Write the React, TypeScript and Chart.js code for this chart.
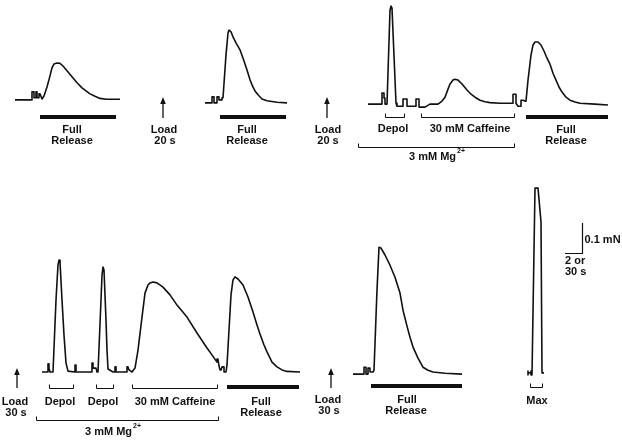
import React, { useEffect, useRef } from "react";
import { Chart, registerables } from "chart.js";

Chart.register(...registerables);

// ---- Force traces: [time (a.u.), force above baseline (mN)] ----
const TRACE_1: [number, number][] = [
  [0, 0], [17, 0], [17, 0.027], [19, 0.027], [19, 0.007], [21, 0.007], [21, 0.027], [22, 0.027],
  [22, 0.007], [24, 0.007], [24, 0.02], [25, 0.02], [27, 0.003], [29, 0.013], [32, 0.043], [35, 0.08],
  [37, 0.107], [39, 0.12], [42, 0.123], [45, 0.122], [48, 0.113], [52, 0.097], [57, 0.077], [62, 0.057],
  [67, 0.04], [71, 0.03], [75, 0.02], [80, 0.012], [85, 0.005], [91, 0.002], [105, 0.002],
];
const TRACE_2: [number, number][] = [
  [0, 0], [7, 0], [7, 0.02], [9, 0.02], [9, 0], [12, 0], [12, 0.02], [14, 0.02], [14, 0.01], [17, 0.01],
  [17, 0.017], [18, 0.017], [21, 0.16], [23, 0.233], [24, 0.243], [26, 0.237], [28, 0.22], [31, 0.2],
  [35, 0.177], [39, 0.14], [42, 0.11], [45, 0.077], [47, 0.06], [50, 0.04], [53, 0.027], [57, 0.013],
  [62, 0.007], [72, 0.002], [82, 0],
];
const TRACE_3: [number, number][] = [
  [0, 0], [14, 0], [14, 0.037], [16, 0.037], [16, 0.02], [17, 0.02], [17, 0], [19, 0], [22, 0.313],
  [23, 0.327], [24, 0.32], [28, 0.003], [29, -0.007], [35, -0.007], [35, 0.017], [39, 0.017], [39, -0.007],
  [48, -0.007], [48, 0.017], [51, 0.017], [51, -0.01], [57, -0.01], [62, 0], [70, 0], [74, 0.01],
  [77, 0.023], [80, 0.05], [82, 0.067], [85, 0.08], [87, 0.083], [90, 0.08], [94, 0.067], [99, 0.047],
  [103, 0.033], [107, 0.023], [112, 0.013], [117, 0.008], [122, 0.005], [132, 0.003], [145, 0.003],
  [145, 0.033], [148, 0.033], [148, 0.003], [150, -0.007], [153, -0.007], [153, 0.013], [155, 0.013],
  [157, 0.01], [158, 0.01], [160, 0.08], [163, 0.163], [165, 0.197], [167, 0.207], [170, 0.207],
  [173, 0.197], [176, 0.177], [179, 0.153], [182, 0.133], [185, 0.103], [188, 0.08], [191, 0.057],
  [194, 0.04], [198, 0.023], [202, 0.013], [207, 0.007], [212, 0.003], [227, 0], [240, -0.003],
];
const TRACE_4: [number, number][] = [
  [0, 0], [6, 0], [6, 0.027], [7, 0.027], [7, 0.013], [8, 0], [11, 0], [14, 0.24], [16, 0.357],
  [17, 0.373], [18, 0.367], [20, 0.24], [22, 0.123], [24, 0.03], [26, 0.003], [33, 0], [33, 0.023],
  [34, 0.023], [34, 0], [50, 0], [50, 0.03], [51, 0.03], [51, 0.013], [54, 0.013], [55, 0], [56, 0],
  [59, 0.24], [60, 0.323], [61, 0.35], [62, 0.34], [64, 0.173], [65, 0.073], [66, 0.01], [71, 0], [73, 0],
  [73, 0.017], [74, 0.017], [74, 0], [85, 0], [85, 0.017], [86, 0.017], [87, 0.007], [90, 0], [93, 0.013],
  [96, 0.073], [100, 0.183], [103, 0.263], [106, 0.29], [108, 0.297], [111, 0.3], [115, 0.297],
  [121, 0.283], [128, 0.257], [135, 0.223], [145, 0.183], [155, 0.13], [165, 0.08], [170, 0.057],
  [175, 0.033], [175, 0.043], [176, 0.043], [177, 0.02], [178, 0.007], [179, 0.007], [180, 0.017],
  [182, 0.017], [182, 0], [184, 0], [185, 0.023], [187, 0.14], [189, 0.257], [191, 0.307], [193, 0.317],
  [196, 0.31], [201, 0.29], [206, 0.25], [211, 0.2], [215, 0.157], [218, 0.127], [222, 0.09],
  [225, 0.067], [230, 0.033], [235, 0.017], [240, 0.007], [245, 0.002], [258, 0],
];
const TRACE_5: [number, number][] = [
  [0, 0], [11, 0], [11, 0.023], [13, 0.023], [13, 0], [15, 0], [15, 0.02], [17, 0.02], [17, 0.007],
  [20, 0.007], [21, 0.013], [24, 0.28], [26, 0.423], [28, 0.42], [32, 0.397], [37, 0.363], [42, 0.323],
  [47, 0.27], [50, 0.213], [54, 0.16], [57, 0.123], [60, 0.09], [65, 0.053], [70, 0.023], [75, 0.013],
  [80, 0.007], [92, 0.003], [109, 0],
];
const TRACE_6: [number, number][] = [
  [0, 0.013], [0, 0], [0, 0.007], [3, 0.007], [3, 0.013], [3, 0], [4, 0], [7, 0.623], [10, 0.623],
  [13, 0.51], [14, 0.007], [16, 0.007],
];

const TRACES = [TRACE_1, TRACE_2, TRACE_3, TRACE_4, TRACE_5, TRACE_6];
const TRACE_STARTS = [15, 205, 368, 42, 353, 528];
const TRACE_BASELINES = [1.137, 1.127, 1.123, 0.23, 0.223, 0.22];

// ---- Layout of annotations ----
const X_RANGE = [0, 622];
const Y_RANGE = [0, 1.47];
const ROW_BASE = [1.123, 0.227];

const THICK_BARS = [
  { row: 0, x1: 40, x2: 116, dy: 13 },
  { row: 0, x1: 220, x2: 286, dy: 13 },
  { row: 0, x1: 526, x2: 608, dy: 13 },
  { row: 1, x1: 227, x2: 299, dy: 14 },
  { row: 1, x1: 371, x2: 462, dy: 13 },
];
const BRACKETS = [
  { row: 0, x1: 385, x2: 404, dy: 13 },
  { row: 0, x1: 421, x2: 514, dy: 13 },
  { row: 0, x1: 358, x2: 514, dy: 43 },
  { row: 1, x1: 49, x2: 73, dy: 15 },
  { row: 1, x1: 96, x2: 113, dy: 15 },
  { row: 1, x1: 132, x2: 217, dy: 15 },
  { row: 1, x1: 530, x2: 542, dy: 14 },
  { row: 1, x1: 36, x2: 218, dy: 47 },
];
const ARROWS = [
  { row: 0, x: 163, tip: -7, tail: 14 },
  { row: 0, x: 327, tip: -7, tail: 14 },
  { row: 1, x: 17, tip: -5, tail: 15 },
  { row: 1, x: 331, tip: -5, tail: 15 },
];
const LABELS = [
  { row: 0, x: 72, dy: 26, text: "Full" },
  { row: 0, x: 72, dy: 37, text: "Release" },
  { row: 0, x: 164, dy: 26, text: "Load" },
  { row: 0, x: 165, dy: 37, text: "20 s" },
  { row: 0, x: 247, dy: 26, text: "Full" },
  { row: 0, x: 247, dy: 37, text: "Release" },
  { row: 0, x: 328, dy: 26, text: "Load" },
  { row: 0, x: 328, dy: 37, text: "20 s" },
  { row: 0, x: 393, dy: 25, text: "Depol" },
  { row: 0, x: 470, dy: 25, text: "30 mM Caffeine" },
  { row: 0, x: 566, dy: 26, text: "Full" },
  { row: 0, x: 566, dy: 37, text: "Release" },
  { row: 1, x: 15, dy: 29, text: "Load" },
  { row: 1, x: 16, dy: 40, text: "30 s" },
  { row: 1, x: 60, dy: 29, text: "Depol" },
  { row: 1, x: 103, dy: 29, text: "Depol" },
  { row: 1, x: 175, dy: 29, text: "30 mM Caffeine" },
  { row: 1, x: 261, dy: 29, text: "Full" },
  { row: 1, x: 261, dy: 40, text: "Release" },
  { row: 1, x: 328, dy: 27, text: "Load" },
  { row: 1, x: 329, dy: 38, text: "30 s" },
  { row: 1, x: 407, dy: 27, text: "Full" },
  { row: 1, x: 406, dy: 38, text: "Release" },
  { row: 1, x: 537, dy: 28, text: "Max" },
];
const MG_LABELS = [
  { row: 0, x: 437, dy: 53 },
  { row: 1, x: 113, dy: 59 },
];
const SCALE_BAR = { x: 582, base: 0.627, force: 0.1, timeLen: 17 };

const FONT = "bold 11px 'Liberation Sans', Arial, sans-serif";
const SUP_FONT = "bold 7px 'Liberation Sans', Arial, sans-serif";
const INK = "#111";

const annotate = {
  id: "annotate",
  afterDatasetsDraw(chart: any) {
    const ctx = chart.ctx as CanvasRenderingContext2D;
    const xs = chart.scales.x;
    const ys = chart.scales.y;
    const rowY = (r: number) => ys.getPixelForValue(ROW_BASE[r]);
    ctx.save();
    ctx.strokeStyle = INK;
    ctx.fillStyle = INK;

    ctx.lineWidth = 4;
    ctx.lineCap = "butt";
    THICK_BARS.forEach((b) => {
      const y = rowY(b.row) + b.dy;
      ctx.beginPath();
      ctx.moveTo(xs.getPixelForValue(b.x1), y);
      ctx.lineTo(xs.getPixelForValue(b.x2), y);
      ctx.stroke();
    });

    ctx.lineWidth = 1;
    BRACKETS.forEach((b) => {
      const y = Math.round(rowY(b.row) + b.dy) + 0.5;
      const x1 = Math.round(xs.getPixelForValue(b.x1)) + 0.5;
      const x2 = Math.round(xs.getPixelForValue(b.x2)) + 0.5;
      ctx.beginPath();
      ctx.moveTo(x1, y - 4);
      ctx.lineTo(x1, y);
      ctx.lineTo(x2, y);
      ctx.lineTo(x2, y - 4);
      ctx.stroke();
    });

    ARROWS.forEach((a) => {
      const x = xs.getPixelForValue(a.x);
      const base = rowY(a.row);
      const tip = base + a.tip;
      ctx.lineWidth = 1.3;
      ctx.beginPath();
      ctx.moveTo(x, base + a.tail);
      ctx.lineTo(x, tip + 5);
      ctx.stroke();
      ctx.beginPath();
      ctx.moveTo(x, tip);
      ctx.lineTo(x - 2.8, tip + 7);
      ctx.lineTo(x + 2.8, tip + 7);
      ctx.closePath();
      ctx.fill();
    });

    ctx.font = FONT;
    ctx.textAlign = "center";
    ctx.textBaseline = "middle";
    LABELS.forEach((l) => {
      ctx.fillText(l.text, xs.getPixelForValue(l.x), rowY(l.row) + l.dy);
    });

    MG_LABELS.forEach((m) => {
      const main = "3 mM Mg";
      const sup = "2+";
      ctx.font = FONT;
      const w1 = ctx.measureText(main).width;
      ctx.font = SUP_FONT;
      const w2 = ctx.measureText(sup).width;
      const cx = xs.getPixelForValue(m.x);
      const y = rowY(m.row) + m.dy;
      const left = cx - (w1 + w2 + 1) / 2;
      ctx.textAlign = "left";
      ctx.font = FONT;
      ctx.fillText(main, left, y);
      ctx.font = SUP_FONT;
      ctx.fillText(sup, left + w1 + 1, y - 6);
    });

    // scale bar
    const sx = Math.round(xs.getPixelForValue(SCALE_BAR.x)) + 0.5;
    const sy0 = Math.round(ys.getPixelForValue(SCALE_BAR.base)) + 0.5;
    const sy1 = ys.getPixelForValue(SCALE_BAR.base + SCALE_BAR.force);
    const sxl = xs.getPixelForValue(SCALE_BAR.x - SCALE_BAR.timeLen);
    ctx.lineWidth = 1.2;
    ctx.beginPath();
    ctx.moveTo(sx, sy1);
    ctx.lineTo(sx, sy0);
    ctx.lineTo(sxl, sy0);
    ctx.stroke();
    ctx.font = FONT;
    ctx.textAlign = "left";
    ctx.textBaseline = "middle";
    ctx.fillText("0.1 mN", sx + 2, (sy0 + sy1) / 2 + 2);
    ctx.fillText("2 or", sxl, sy0 + 7);
    ctx.fillText("30 s", sxl, sy0 + 18);
    ctx.restore();
  },
};

export default function App() {
  const ref = useRef<HTMLCanvasElement | null>(null);
  useEffect(() => {
    if (!ref.current) return;
    const datasets = TRACES.map((tr, i) => ({
      data: tr.map(([t, f]) => ({ x: TRACE_STARTS[i] + t, y: TRACE_BASELINES[i] + f })),
      borderColor: INK,
      borderWidth: 1.6,
      pointRadius: 0,
      tension: 0,
      fill: false,
      borderJoinStyle: "round" as const,
    }));
    const chart = new Chart(ref.current, {
      type: "line",
      data: { datasets },
      options: {
        animation: false,
        responsive: false,
        devicePixelRatio: 1,
        layout: { padding: 0 },
        parsing: false as any,
        scales: {
          x: { type: "linear", min: X_RANGE[0], max: X_RANGE[1], display: false },
          y: { type: "linear", min: Y_RANGE[0], max: Y_RANGE[1], display: false },
        },
        plugins: { legend: { display: false }, tooltip: { enabled: false } },
      },
      plugins: [annotate],
    });
    return () => chart.destroy();
  }, []);
  return (
    <div style={{ position: "absolute", left: 0, top: 0, width: 622, height: 441, background: "#fff" }}>
      <canvas ref={ref} width={622} height={441} />
    </div>
  );
}
